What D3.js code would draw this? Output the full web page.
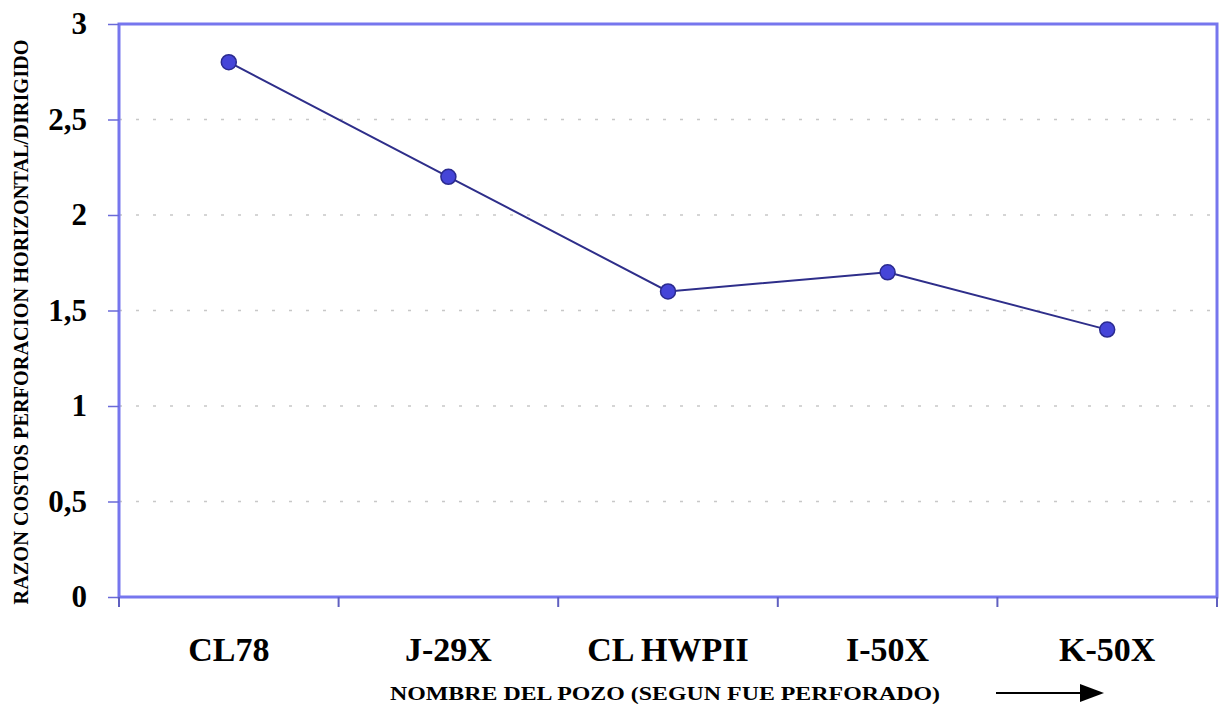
<!DOCTYPE html>
<html>
<head>
<meta charset="utf-8">
<script src="https://cdn.jsdelivr.net/npm/d3@7"></script>
<style>
  body { margin: 0; background: #fff; }
  text { font-family: "Liberation Serif", "Times New Roman", serif; font-weight: bold; fill: #000; }
</style>
</head>
<body>
<div class="container"></div>
<script>
// data
const wells = ["CL78", "J-29X", "CL HWPII", "I-50X", "K-50X"];
const ratio = [2.8, 2.2, 1.6, 1.7, 1.4];
const yTicks = [0, 0.5, 1, 1.5, 2, 2.5, 3];

let outerWidth = 1227,
    outerHeight = 707;
let margin = {top: 24, right: 10, bottom: 110, left: 119};
let width = 1217 - margin.left,
    height = 597 - margin.top;

let svg = d3.select('.container').append('svg')
  .attr('width', outerWidth)
  .attr('height', outerHeight);

let group = svg.append('g')
  .attr('transform', `translate(${margin.left},${margin.top})`);

let xScale = d3.scaleBand()
  .domain(wells)
  .range([0, width]);

let yScale = d3.scaleLinear()
  .domain([0, 3])
  .range([height, 0]);

// gridlines
group.selectAll('.grid')
  .data(yTicks.filter(d => d > 0 && d < 3))
  .enter()
  .append('line')
  .attr('x1', 0)
  .attr('x2', width)
  .attr('y1', d => yScale(d))
  .attr('y2', d => yScale(d))
  .attr('stroke', '#c8c8c8')
  .attr('stroke-width', 1.5)
  .attr('stroke-dasharray', '3,14');

// frame
group.append('rect')
  .attr('x', 0).attr('y', 0)
  .attr('width', width).attr('height', height)
  .attr('fill', 'none')
  .attr('stroke', '#7676ee')
  .attr('stroke-width', 3);

// y axis
let yAxis = d3.axisLeft(yScale)
  .tickValues(yTicks)
  .tickSize(11)
  .tickPadding(21)
  .tickFormat(d => String(d).replace('.', ','));

let gy = group.append('g').call(yAxis);
gy.select('.domain').remove();
gy.selectAll('line').attr('stroke', '#6a6ad8').attr('stroke-width', 1.5);
gy.selectAll('text')
  .style('font-size', '31px')
  .style('font-family', '"Liberation Serif", serif')
  .style('font-weight', 'bold')
  .attr('fill', '#000');

// x axis
let xAxis = d3.axisBottom(xScale)
  .tickSize(0)
  .tickPadding(40);

let gx = group.append('g')
  .attr('transform', `translate(0,${height})`)
  .call(xAxis);
gx.select('.domain').remove();
gx.selectAll('text')
  .style('font-size', '34px')
  .style('font-family', '"Liberation Serif", serif')
  .style('font-weight', 'bold')
  .attr('fill', '#000');

// category boundary ticks
group.selectAll('.xtick')
  .data(wells.concat(['end']))
  .enter()
  .append('line')
  .attr('x1', (d, i) => i * xScale.step())
  .attr('x2', (d, i) => i * xScale.step())
  .attr('y1', height)
  .attr('y2', height + 10)
  .attr('stroke', '#6060c0')
  .attr('stroke-width', 2);

// line
let line = d3.line()
  .x((d, i) => xScale(wells[i]) + xScale.bandwidth() / 2)
  .y(d => yScale(d));

group.append('path')
  .datum(ratio)
  .attr('d', line)
  .attr('fill', 'none')
  .attr('stroke', '#2e2e8a')
  .attr('stroke-width', 2);

group.selectAll('circle')
  .data(ratio)
  .enter()
  .append('circle')
  .attr('cx', (d, i) => xScale(wells[i]) + xScale.bandwidth() / 2)
  .attr('cy', d => yScale(d))
  .attr('r', 7.5)
  .attr('fill', '#4545d8')
  .attr('stroke', '#2a2a90')
  .attr('stroke-width', 1.5);

// axis titles
svg.append('text')
  .attr('transform', 'rotate(-90)')
  .attr('x', -322)
  .attr('y', 28)
  .style('text-anchor', 'middle')
  .style('font-size', '20px')
  .attr('textLength', 565)
  .attr('lengthAdjust', 'spacingAndGlyphs')
  .text('RAZON COSTOS PERFORACION HORIZONTAL/DIRIGIDO');

svg.append('text')
  .attr('x', 665)
  .attr('y', 700)
  .style('text-anchor', 'middle')
  .style('font-size', '19px')
  .attr('textLength', 550)
  .attr('lengthAdjust', 'spacingAndGlyphs')
  .text('NOMBRE DEL POZO (SEGUN FUE PERFORADO)');

// arrow
svg.append('line')
  .attr('x1', 996).attr('x2', 1082)
  .attr('y1', 693).attr('y2', 693)
  .attr('stroke', '#000')
  .attr('stroke-width', 2);
svg.append('path')
  .attr('d', 'M1080,684 L1104,693 L1080,702 Z')
  .attr('fill', '#000');
</script>
</body>
</html>
